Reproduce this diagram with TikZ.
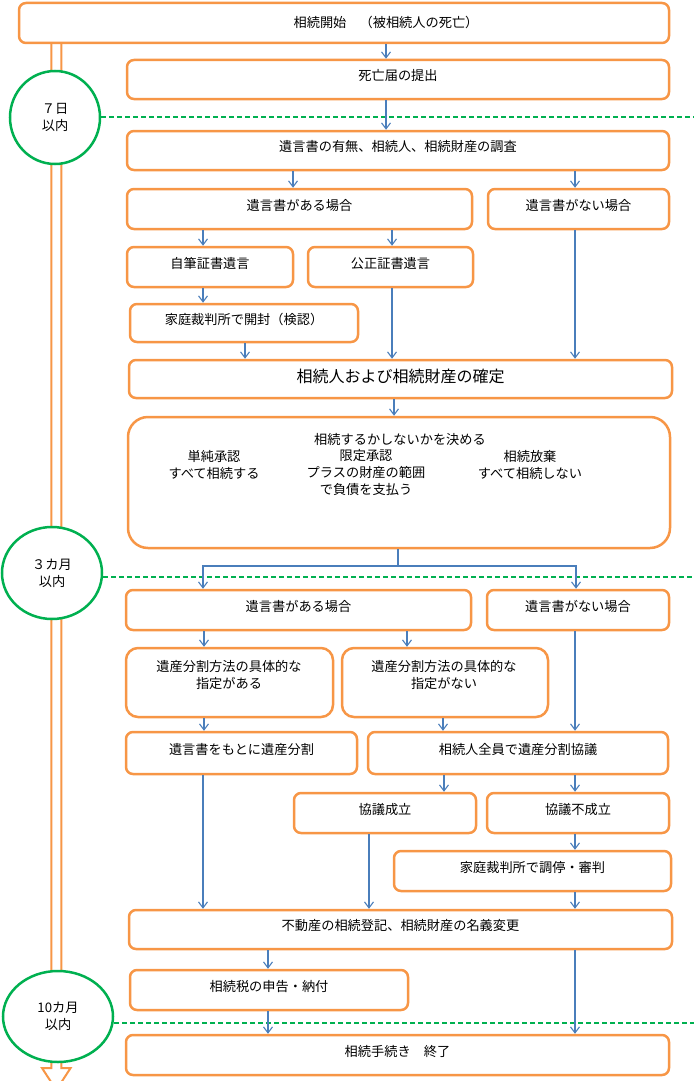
\documentclass[tikz,border=0pt]{standalone}
\usepackage{fontspec}
\setmainfont{Noto Sans CJK JP}
\usepackage{xcolor}
\usetikzlibrary{arrows.meta, positioning, shapes.geometric}
\definecolor{boxorange}{HTML}{F79646}
\definecolor{flowblue}{HTML}{4A7EBB}
\definecolor{limitgreen}{HTML}{00B050}

\begin{document}
\begin{tikzpicture}[x=1pt, y=-1pt, >={Straight Barb[length=6pt,width=9pt]},
    font=\fontsize{13.2}{17}\selectfont,
    box/.style={draw=boxorange, line width=2.5pt, rounded corners=7pt, fill=white, inner sep=0pt, text height=8.5pt, text depth=6pt},
    term/.style={ellipse, draw=limitgreen, line width=2.5pt, fill=white, inner sep=0pt, align=center},
    limit/.style={limitgreen, line width=2pt, dash pattern=on 5pt off 3pt},
    flow/.style={->, flowblue, line width=1.1pt},
    txt/.style={inner sep=0pt, align=center}]
    \useasboundingbox (0,0) rectangle (694,1081);

    % time line (hollow arrow)
    \draw[boxorange, line width=2pt, fill=white, line join=miter] (51.3,30) -- (51.3,1068) -- (42,1068) -- (56.3,1090) -- (70.6,1068) -- (61.3,1068) -- (61.3,30);

    \node[term, minimum width=90, minimum height=93] (day7) at (55,117.5) {７日\\以内};
    \node[term, minimum width=100, minimum height=92] (month3) at (52,573) {３カ月\\以内};
    \node[term, minimum width=110, minimum height=91] (month10) at (58,1016.5) {10カ月\\以内};

    \coordinate (edge7) at (694,117);
    \coordinate (edge3) at (694,577);
    \coordinate (edge10) at (694,1023);
    \draw[limit] (day7.east |- edge7) -- (edge7);
    \draw[limit] (month3.east |- edge3) -- (edge3);
    \draw[limit] (month10.east |- edge10) -- (edge10);

    % boxes
    \node[box, minimum width=650, minimum height=40] (start) at (344,23) {};
    \node[txt] (starttxt) at (386,22) {相続開始　（被相続人の死亡）};
    \node[box, minimum width=542, minimum height=39] (death) at (398,79.5) {死亡届の提出};
    \node[box, minimum width=542, minimum height=39] (survey) at (398,150.5) {遺言書の有無、相続人、相続財産の調査};
    \node[box, minimum width=345, minimum height=40] (will) at (299.5,209) {遺言書がある場合};
    \node[box, minimum width=181, minimum height=40] (nowill) at (578.5,209) {遺言書がない場合};
    \node[box, minimum width=166, minimum height=40] (holo) at (210,267) {自筆証書遺言};
    \node[box, minimum width=165, minimum height=40] (notar) at (390.5,267) {公正証書遺言};
    \node[box, minimum width=228, minimum height=38] (court) at (244,323) {家庭裁判所で開封（検認）};
    \node[box, minimum width=543, minimum height=38, font=\fontsize{16}{18}\selectfont, text height=11pt, text depth=4pt] (fix) at (400.5,379) {相続人および相続財産の確定};

    \node[box, rounded corners=20pt, minimum width=542, minimum height=131] (decide) at (399,482.5) {};
    \node[txt] (decidetxt) at (400,439) {相続するかしないかを決める};
    \node[txt] (simple) at (214,464.5) {単純承認\\すべて相続する};
    \node[txt] (limited) at (366,473) {限定承認\\プラスの財産の範囲\\で負債を支払う};
    \node[txt] (renounce) at (530,464.5) {相続放棄\\すべて相続しない};

    \node[box, minimum width=345, minimum height=40] (will2) at (298.5,610) {遺言書がある場合};
    \node[box, minimum width=182, minimum height=40] (nowill2) at (578,610) {遺言書がない場合};
    \node[box, rounded corners=12pt, minimum width=207, minimum height=69] (spec) at (229.5,682.5) {};
    \node[txt] (spectxt) at (229,675) {遺産分割方法の具体的な\\指定がある};
    \node[box, rounded corners=12pt, minimum width=206, minimum height=69] (nospec) at (445,682.5) {};
    \node[txt] (nospectxt) at (444,675) {遺産分割方法の具体的な\\指定がない};
    \node[box, minimum width=231, minimum height=42] (split) at (241.5,753) {遺言書をもとに遺産分割};
    \node[box, minimum width=300, minimum height=42] (talk) at (518,753) {相続人全員で遺産分割協議};
    \node[box, minimum width=182, minimum height=40] (agree) at (385,813) {協議成立};
    \node[box, minimum width=182, minimum height=40] (disagree) at (578,813) {協議不成立};
    \node[box, minimum width=277, minimum height=40] (mediate) at (532.5,871) {家庭裁判所で調停・審判};
    \node[box, minimum width=543, minimum height=39] (register) at (400.5,929.5) {不動産の相続登記、相続財産の名義変更};
    \node[box, minimum width=278, minimum height=40] (tax) at (269,990) {相続税の申告・納付};
    \node[box, minimum width=543, minimum height=40] (finish) at (397.5,1055) {相続手続き　終了};

    % connectors
    \draw[flow] (start.south -| 386,0) -- (death.north -| 386,0);
    \draw[flow] (death.south -| 386,0) -- (survey.north -| 386,0);
    \draw[flow] (survey.south -| 293,0) -- (will.north -| 293,0);
    \draw[flow] (survey.south -| 575,0) -- (nowill.north -| 575,0);
    \draw[flow] (will.south -| 203,0) -- (holo.north -| 203,0);
    \draw[flow] (will.south -| 392,0) -- (notar.north -| 392,0);
    \draw[flow] (holo.south -| 203,0) -- (court.north -| 203,0);
    \draw[flow] (court.south -| 245,0) -- (fix.north -| 245,0);
    \draw[flow] (notar.south -| 392,0) -- (fix.north -| 392,0);
    \draw[flow] (nowill.south -| 575,0) -- (fix.north -| 575,0);
    \draw[flow] (fix.south -| 394,0) -- (decide.north -| 394,0);

    \coordinate (fork) at (398,566);
    \draw[flowblue, line width=1.1pt] (decide.south -| fork) -- (fork);
    \draw[flow] (fork) -| (will2.north -| 203,0);
    \draw[flow] (fork) -| (nowill2.north -| 576,0);

    \draw[flow] (will2.south -| 204,0) -- (spec.north -| 204,0);
    \draw[flow] (will2.south -| 407,0) -- (nospec.north -| 407,0);
    \draw[flow] (nowill2.south -| 575,0) -- (talk.north -| 575,0);
    \draw[flow] (spec.south -| 204,0) -- (split.north -| 204,0);
    \draw[flow] (nospec.south -| 443,0) -- (talk.north -| 443,0);
    \draw[flow] (talk.south -| 444,0) -- (agree.north -| 444,0);
    \draw[flow] (talk.south -| 575,0) -- (disagree.north -| 575,0);
    \draw[flow] (disagree.south -| 575,0) -- (mediate.north -| 575,0);
    \draw[flow] (split.south -| 203,0) -- (register.north -| 203,0);
    \draw[flow] (agree.south -| 369,0) -- (register.north -| 369,0);
    \draw[flow] (mediate.south -| 575,0) -- (register.north -| 575,0);
    \draw[flow] (register.south -| 268,0) -- (tax.north -| 268,0);
    \draw[flow] (register.south -| 575,0) -- (finish.north -| 575,0);
    \draw[flow] (tax.south -| 268,0) -- (finish.north -| 268,0);
\end{tikzpicture}
\end{document}
